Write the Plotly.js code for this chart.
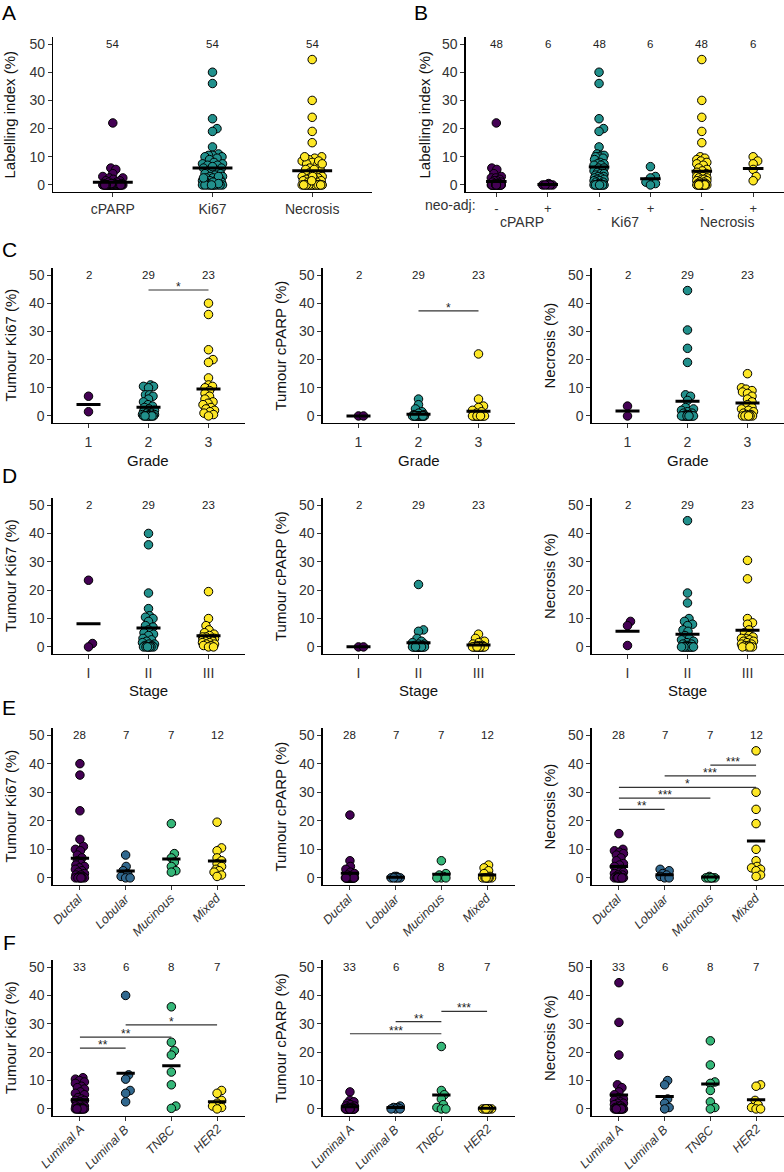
<!DOCTYPE html>
<html>
<head>
<meta charset="utf-8">
<script src="https://cdn.plot.ly/plotly-3.0.1.min.js"></script>
<style>html,body{margin:0;padding:0;background:#fff;}#chart{width:784px;height:1172px;}</style>
</head>
<body>
<div id="chart"></div>
<script>
// ---------------- DATA ----------------
const markers = ['cPARP', 'Ki67', 'Necrosis'];
const nA = [54, 54, 54];
const meanA = [1.0, 6.0, 5.0];

const neoLabels = ['-', '+', '-', '+', '-', '+'];
const nB = [48, 6, 48, 6, 48, 6];
const meanB = [1.2, 0.2, 6.4, 2.2, 4.9, 5.8];
const cparpNeoNeg = [22, 6, 5.5, 4, 3, 2.5, 2.5, 2, 1.5, 1.5, 1, 1, 0.5, 0.5, 0.5, 0.5,
  0, 0, 0, 0, 0, 0, 0, 0, 0, 0, 0, 0, 0, 0, 0, 0, 0, 0, 0, 0, 0, 0, 0, 0, 0, 0, 0, 0, 0, 0, 0, 0];
const cparpNeoPos = [0.5, 0, 0, 0, 0, 0];
const ki67NeoNeg = [40, 36, 23.5, 20, 19, 13.5, 11, 10.5, 10.5, 10, 10, 9.5, 9, 8, 7.5, 7.5, 7, 7, 6, 6,
  5, 5, 4.5, 4, 4, 3.5, 3, 3, 2.5, 2.5, 2, 2, 1.5, 1.5, 1, 1, 0.5, 0.5, 0, 0, 0, 0, 0, 0, 0, 0, 0, 0];
const ki67NeoPos = [6.5, 3, 2.5, 1, 0.5, 0];
const necNeoNeg = [44.5, 30, 24, 19, 15, 10, 9.5, 9, 8.5, 8, 7.5, 7, 6, 5.5, 5, 4.5, 4, 3.5, 3, 3,
  2.5, 2.5, 2, 2, 1.5, 1.5, 1, 1, 0.5, 0.5, 0.5, 0, 0, 0, 0, 0, 0, 0, 0, 0, 0, 0, 0, 0, 0, 0, 0, 0];
const necNeoPos = [10, 8.5, 7.5, 5.5, 3, 1.5];

const grades = ['1', '2', '3'];
const nGrade = [2, 29, 23];
const ki67Grade = [
  [7, 1.5],
  [11, 10.5, 10.5, 10, 7.5, 7.5, 7, 6, 5, 4, 3.5, 3, 2.5, 2, 1.5, 1, 1, 0.5, 0.5, 0.5, 0, 0, 0, 0, 0, 0, 0, 0, 0],
  [40, 36, 23.5, 20, 19, 13.5, 11, 10.5, 10, 9, 8, 7, 6, 5, 4.5, 4, 3, 2.5, 2, 1.5, 1, 0.5, 0]
];
const meanKi67Grade = [4.1, 3.1, 9.6];
const cparpGrade = [
  [0, 0],
  [6, 4, 2.5, 1.5, 1, 0.5, 0.5, 0, 0, 0, 0, 0, 0, 0, 0, 0, 0, 0, 0, 0, 0, 0, 0, 0, 0, 0, 0, 0, 0],
  [22, 6, 3.5, 3, 2, 1.5, 1, 0, 0, 0, 0, 0, 0, 0, 0, 0, 0, 0, 0, 0, 0, 0, 0]
];
const meanCparpGrade = [0.0, 0.6, 1.7];
const necGrade = [
  [3.5, 0],
  [44.5, 30.5, 24, 19, 7.5, 7, 5.5, 3, 2.5, 2, 1.5, 1, 1, 0.5, 0.5, 0, 0, 0, 0, 0, 0, 0, 0, 0, 0, 0, 0, 0, 0],
  [15, 10, 9.5, 9, 8.5, 8, 7, 6, 5, 4, 3, 2.5, 2, 1.5, 1, 0.5, 0.5, 0, 0, 0, 0, 0, 0]
];
const meanNecGrade = [1.8, 5.2, 4.6];

const stages = ['I', 'II', 'III'];
const nStage = [2, 29, 23];
const ki67Stage = [
  [23.5, 1.2, 0],
  [40, 36, 19, 13.5, 11, 10.5, 10, 9, 7.5, 7, 6, 5, 4.5, 4, 3, 2.5, 2, 1.5, 1, 1, 0.5, 0.5, 0, 0, 0, 0, 0, 0, 0],
  [19.5, 10, 7.5, 6, 5, 4.5, 4, 3.5, 3.5, 3, 3, 2.5, 2.5, 2, 2, 1.5, 1.5, 1, 1, 0.5, 0.5, 0, 0]
];
const meanKi67Stage = [8.2, 6.7, 3.9];
const cparpStage = [
  [0, 0],
  [22, 6, 5.5, 3, 2, 1.5, 1, 1, 0.5, 0.5, 0, 0, 0, 0, 0, 0, 0, 0, 0, 0, 0, 0, 0, 0, 0, 0, 0, 0, 0],
  [4.5, 3, 2, 1.5, 1, 0.5, 0.5, 0.5, 0, 0, 0, 0, 0, 0, 0, 0, 0, 0, 0, 0, 0, 0, 0]
];
const meanCparpStage = [0.1, 1.5, 0.7];
const necStage = [
  [9, 7.5, 0.5],
  [44.5, 19, 15.5, 10, 9, 8, 7.5, 6, 5.5, 4, 3, 2.5, 2, 1.5, 1, 1, 0.5, 0.5, 0, 0, 0, 0, 0, 0, 0, 0, 0, 0, 0],
  [30.5, 24, 10, 8.5, 8, 6, 5, 4, 3.5, 3, 3, 2.5, 2, 2, 1.5, 1, 1, 0.5, 0.5, 0, 0, 0, 0]
];
const meanNecStage = [5.5, 4.5, 5.9];

const histology = ['Ductal', 'Lobular', 'Mucinous', 'Mixed'];
const nHist = [28, 7, 7, 12];
const ki67Hist = [
  [40, 36, 23.5, 13.5, 11, 10, 9.5, 8, 7, 6, 5, 4.5, 4, 3.5, 3, 2.5, 2, 1.5, 1, 1, 0.5, 0.5, 0, 0, 0, 0, 0, 0],
  [8, 4, 2.5, 1.5, 0.5, 0, 0],
  [19, 8.5, 7, 5.5, 4, 2.5, 2],
  [19.5, 10.5, 9.5, 7, 6, 5, 4, 3, 2.5, 2, 1, 0.5]
];
const meanKi67Hist = [6.9, 2.4, 6.6, 5.9];
const cparpHist = [
  [22, 6, 4, 3, 2, 1.5, 1, 0.5, 0.5, 0, 0, 0, 0, 0, 0, 0, 0, 0, 0, 0, 0, 0, 0, 0, 0, 0, 0, 0],
  [0.5, 0.5, 0, 0, 0, 0, 0],
  [6, 1.5, 1, 0.5, 0, 0, 0],
  [4.5, 3.5, 2.5, 1.5, 0.5, 0, 0, 0, 0, 0, 0, 0]
];
const meanCparpHist = [1.6, 0.2, 1.3, 1.0];
const necHist = [
  [15.5, 10, 9.5, 9, 8.5, 8, 7, 6, 5, 4.5, 4, 3, 2.5, 2, 2, 1.5, 1, 1, 0.5, 0.5, 0, 0, 0, 0, 0, 0, 0, 0],
  [3, 2.5, 1.5, 1, 0.5, 0, 0],
  [0.5, 0, 0, 0, 0, 0, 0],
  [44.5, 30, 24, 19, 10, 6, 4, 3.5, 3, 2.5, 1, 0.5]
];
const meanNecHist = [4.0, 1.1, 0.3, 12.9];

const subtypes = ['Luminal A', 'Luminal B', 'TNBC', 'HER2'];
const nSub = [33, 6, 8, 7];
const ki67Sub = [
  [11, 10.5, 10, 9.5, 9, 8, 7.5, 7, 6, 5.5, 5, 4, 3.5, 3, 3, 2.5, 2, 2, 1.5, 1, 1, 0.5, 0.5, 0.5, 0, 0, 0, 0, 0, 0, 0, 0, 0],
  [40, 12, 10.5, 6.5, 5.5, 2.5],
  [36, 23.5, 20.5, 19, 13, 8.5, 1, 0.2],
  [6.5, 5.5, 3, 2, 1, 0.5, 0]
];
const meanKi67Sub = [3.2, 12.6, 15.2, 2.5];
const cparpSub = [
  [6, 3, 2.5, 2, 1.5, 1, 1, 0.5, 0.5, 0.5, 0.5, 0, 0, 0, 0, 0, 0, 0, 0, 0, 0, 0, 0, 0, 0, 0, 0, 0, 0, 0, 0, 0, 0],
  [1, 0.5, 0.5, 0, 0, 0],
  [22, 6.5, 5, 3.5, 1.5, 0.5, 0, 0],
  [0, 0, 0, 0, 0, 0, 0]
];
const meanCparpSub = [0.8, 0.5, 4.9, 0.2];
const necSub = [
  [44.5, 30.5, 19, 8.5, 7.5, 6, 5, 4, 3.5, 3, 2.5, 2, 2, 1.5, 1, 1, 0.5, 0.5, 0, 0, 0, 0, 0, 0, 0, 0, 0, 0, 0, 0, 0, 0, 0],
  [10, 8.5, 3.5, 2, 0.5, 0],
  [24, 15.5, 9.5, 9, 6.5, 2.5, 0.5, 0],
  [8.5, 8, 3, 1.5, 0.5, 0, 0]
];
const meanNecSub = [4.9, 4.4, 8.8, 3.2];

// significance brackets: [fromCat, toCat, y, label]
const sigKi67Grade = [[2, 3, 44.7, '*']];
const sigCparpGrade = [[2, 3, 37.3, '*']];
const sigNecHist = [[1, 2, 24.0, '**'], [1, 3, 27.9, '***'], [1, 4, 31.7, '*'], [2, 4, 35.7, '***'], [3, 4, 39.5, '***']];
const sigKi67Sub = [[1, 2, 21.4, '**'], [1, 3, 25.3, '**'], [2, 4, 29.6, '*']];
const sigCparpSub = [[1, 3, 26.5, '***'], [2, 3, 30.8, '**'], [3, 4, 34.4, '***']];

const yTicks = [0, 10, 20, 30, 40, 50];

// ---------------- STYLE ----------------
const FONT = 'Liberation Sans, Arial, Helvetica, sans-serif';
const V3 = ['#440154', '#21908C', '#FDE725'];
const V4 = ['#440154', '#31688E', '#35B779', '#FDE725'];
const W = 784, H = 1172;
const px2x = p => p / W;
const px2y = p => 1 - p / H;

const rowY = { A: [37, 192], C: [268, 423], D: [498, 654], E: [728, 885], F: [960, 1116] };
const colX = [[52.5, 244.5], [322.5, 514.5], [591.5, 783.5]];

const panels = [
  { groups: [[...cparpNeoNeg, ...cparpNeoPos], [...ki67NeoNeg, ...ki67NeoPos], [...necNeoNeg, ...necNeoPos]], means: meanA, counts: nA, labels: markers, colors: V3, xpx: [53, 372], ypx: rowY.A, ytitle: 'Labelling index (%)', ytx: 9, sig: [], standoff: 0 },
  { groups: [cparpNeoNeg, cparpNeoPos, ki67NeoNeg, ki67NeoPos, necNeoNeg, necNeoPos], means: meanB, counts: nB, labels: neoLabels, colors: [V3[0], V3[0], V3[1], V3[1], V3[2], V3[2]], xpx: [465.5, 784], ypx: rowY.A, ytitle: 'Labelling index (%)', ytx: 424, sig: [], standoff: 0, tickSize: 13 },
];
const rowDefs = [
  { row: 'C', cats: grades, counts: nGrade, xtitle: 'Grade', sets: [[ki67Grade, meanKi67Grade, sigKi67Grade], [cparpGrade, meanCparpGrade, sigCparpGrade], [necGrade, meanNecGrade, []]] },
  { row: 'D', cats: stages, counts: nStage, xtitle: 'Stage', sets: [[ki67Stage, meanKi67Stage, []], [cparpStage, meanCparpStage, []], [necStage, meanNecStage, []]] },
  { row: 'E', cats: histology, counts: nHist, xtitle: '', sets: [[ki67Hist, meanKi67Hist, []], [cparpHist, meanCparpHist, []], [necHist, meanNecHist, sigNecHist]] },
  { row: 'F', cats: subtypes, counts: nSub, xtitle: '', sets: [[ki67Sub, meanKi67Sub, sigKi67Sub], [cparpSub, meanCparpSub, sigCparpSub], [necSub, meanNecSub, []]] },
];
const yTitles = ['Tumour Ki67 (%)', 'Tumour cPARP (%)', 'Necrosis (%)'];
rowDefs.forEach(r => {
  r.sets.forEach((s, c) => {
    panels.push({
      groups: s[0], means: s[1], counts: r.counts, labels: r.cats,
      colors: r.cats.length === 3 ? V3 : V4, xpx: colX[c], ypx: rowY[r.row],
      ytitle: yTitles[c], ytx: colX[c][0] - 42.5, sig: s[2], xtitle: r.xtitle,
      rotate: r.cats.length === 4, standoff: 2, tickSize: 14
    });
  });
});

// beeswarm-like horizontal offsets (category units)
function swarm(vals, pxPerCat, pxPerUnit) {
  const n = vals.length, D = 5;
  const MAXPX = Math.max(4.5, 0.1 * pxPerCat);
  const order = [...Array(n).keys()].sort((a, b) => vals[a] - vals[b]);
  const placed = [];
  const off = new Array(n).fill(0);
  const steps = Math.round(MAXPX * 2);
  for (const i of order) {
    const y = vals[i] * pxPerUnit;
    let chosen = null, bestC = 0, bestD = -1;
    for (let k = 0; k <= 2 * steps; k++) {
      const c = (k % 2 === 1 ? 1 : -1) * Math.ceil(k / 2) * 0.5;
      let md = Infinity;
      for (const p of placed) { const d = Math.hypot(p[0] - c, p[1] - y); if (d < md) md = d; }
      if (md >= D) { chosen = c; break; }
      if (md > bestD) { bestD = md; bestC = c; }
    }
    if (chosen === null) chosen = bestC;
    placed.push([chosen, y]);
    off[i] = chosen / pxPerCat;
  }
  return off;
}

const traces = [], shapes = [], annotations = [];
const layout = {
  width: W, height: H, margin: { l: 0, r: 0, t: 0, b: 0 },
  paper_bgcolor: '#fff', plot_bgcolor: '#fff', showlegend: false,
  font: { family: FONT, color: '#222' }
};

panels.forEach((p, idx) => {
  const k = idx + 1;
  const xn = k === 1 ? 'x' : 'x' + k, yn = k === 1 ? 'y' : 'y' + k;
  const xa = k === 1 ? 'xaxis' : 'xaxis' + k, ya = k === 1 ? 'yaxis' : 'yaxis' + k;
  const ncat = p.labels.length;
  const xd = [px2x(p.xpx[0]), Math.min(1, px2x(p.xpx[1]))];
  const yd = [px2y(p.ypx[1]), px2y(p.ypx[0])];
  const pxPerCat = (p.xpx[1] - p.xpx[0]) / (ncat + 0.2);
  const pxPerUnit = (p.ypx[1] - p.ypx[0]) / 55;
  const cats = p.labels.map((_, i) => i + 1);
  layout[xa] = {
    domain: xd, anchor: yn, range: [0.4, ncat + 0.6], tickvals: cats,
    ticktext: p.labels, showticklabels: !p.rotate, ticklabelstandoff: p.standoff || 0,
    showline: true, linecolor: '#000', linewidth: 1.2, ticks: 'outside', ticklen: 4, tickwidth: 1, tickcolor: '#333',
    tickfont: { family: FONT, size: p.tickSize || 14, color: '#333' }, showgrid: false, zeroline: false, fixedrange: true
  };
  layout[ya] = {
    domain: yd, anchor: xn, range: [-2.5, 52.5], tickvals: yTicks,
    showline: true, linecolor: '#000', linewidth: 1.2, ticks: 'outside', ticklen: 4, tickwidth: 1, tickcolor: '#333',
    tickfont: { family: FONT, size: 14, color: '#333' }, showgrid: false, zeroline: false, fixedrange: true
  };
  // rotated category labels (italic, 45 degrees, right/top anchored at tick)
  if (p.rotate) {
    p.labels.forEach((lab, gi) => annotations.push({
      xref: xn, yref: 'paper', x: gi + 1, y: px2y(p.ypx[1] + 5), xanchor: 'right', yanchor: 'top',
      xshift: 8, textangle: -45, text: '<i>' + lab + '</i>', showarrow: false, borderpad: 0,
      font: { family: FONT, size: 12.5, color: '#333' }
    }));
  }
  // points
  p.groups.forEach((vals, gi) => {
    const off = swarm(vals, pxPerCat, pxPerUnit);
    traces.push({
      type: 'scatter', mode: 'markers', xaxis: xn, yaxis: yn, hoverinfo: 'skip',
      x: vals.map((v, j) => gi + 1 + off[j]), y: vals,
      marker: { size: 8.5, color: p.colors[gi], line: { color: '#000', width: 1 } }
    });
  });
  // mean bars
  const mx = [], my = [];
  p.means.forEach((m, gi) => { mx.push(gi + 0.8, gi + 1.2, null); my.push(m, m, null); });
  traces.push({ type: 'scatter', mode: 'lines', xaxis: xn, yaxis: yn, hoverinfo: 'skip', x: mx, y: my, line: { color: '#000', width: 3 } });
  // counts
  p.counts.forEach((c, gi) => annotations.push({ xref: xn, yref: yn, x: gi + 1, y: 50, text: String(c), showarrow: false, font: { size: 11.5, color: '#222' } }));
  // significance
  (p.sig || []).forEach(s => {
    shapes.push({ type: 'line', xref: xn, yref: yn, x0: s[0], x1: s[1], y0: s[2], y1: s[2], line: { color: '#333', width: 1.2 } });
    annotations.push({ xref: xn, yref: yn, x: (s[0] + s[1]) / 2, y: s[2], yanchor: 'middle', yshift: 3, text: s[3], showarrow: false, font: { size: 12, color: '#222' } });
  });
  // y title
  annotations.push({ xref: 'paper', yref: 'paper', x: px2x(p.ytx), y: (yd[0] + yd[1]) / 2, text: p.ytitle, textangle: -90, showarrow: false, xanchor: 'center', yanchor: 'middle', font: { size: 15, color: '#111' } });
  if (p.xtitle) {
    annotations.push({ xref: 'paper', yref: 'paper', x: (xd[0] + xd[1]) / 2, y: px2y(p.ypx[1] + 37), text: p.xtitle, showarrow: false, xanchor: 'center', yanchor: 'middle', borderpad: 0, font: { size: 15, color: '#111' } });
  }
});

// panel B group labels
annotations.push({ xref: 'paper', yref: 'paper', x: px2x(478), y: px2y(205), text: 'neo-adj:', showarrow: false, xanchor: 'right', yanchor: 'middle', font: { size: 14, color: '#333' } });
markers.forEach((m, i) => annotations.push({ xref: 'x2', yref: 'paper', x: 2 * i + 1.5, y: px2y(222), text: m, showarrow: false, xanchor: 'center', yanchor: 'middle', font: { size: 14, color: '#333' } }));

// panel letters
[['A', 9, 11], ['B', 421, 10], ['C', 9, 250], ['D', 9, 475], ['E', 9, 707], ['F', 9, 942]].forEach(l => {
  const top = l[2] < 20;
  annotations.push({
    xref: 'paper', yref: 'paper', x: px2x(l[1]), y: top ? 1 : px2y(l[2]), text: l[0], showarrow: false,
    xanchor: 'center', yanchor: top ? 'top' : 'middle', borderpad: 0, font: { size: 21, color: '#000' }
  });
});

layout.shapes = shapes;
layout.annotations = annotations;
Plotly.newPlot('chart', traces, layout, { staticPlot: true });
</script>
</body>
</html>
